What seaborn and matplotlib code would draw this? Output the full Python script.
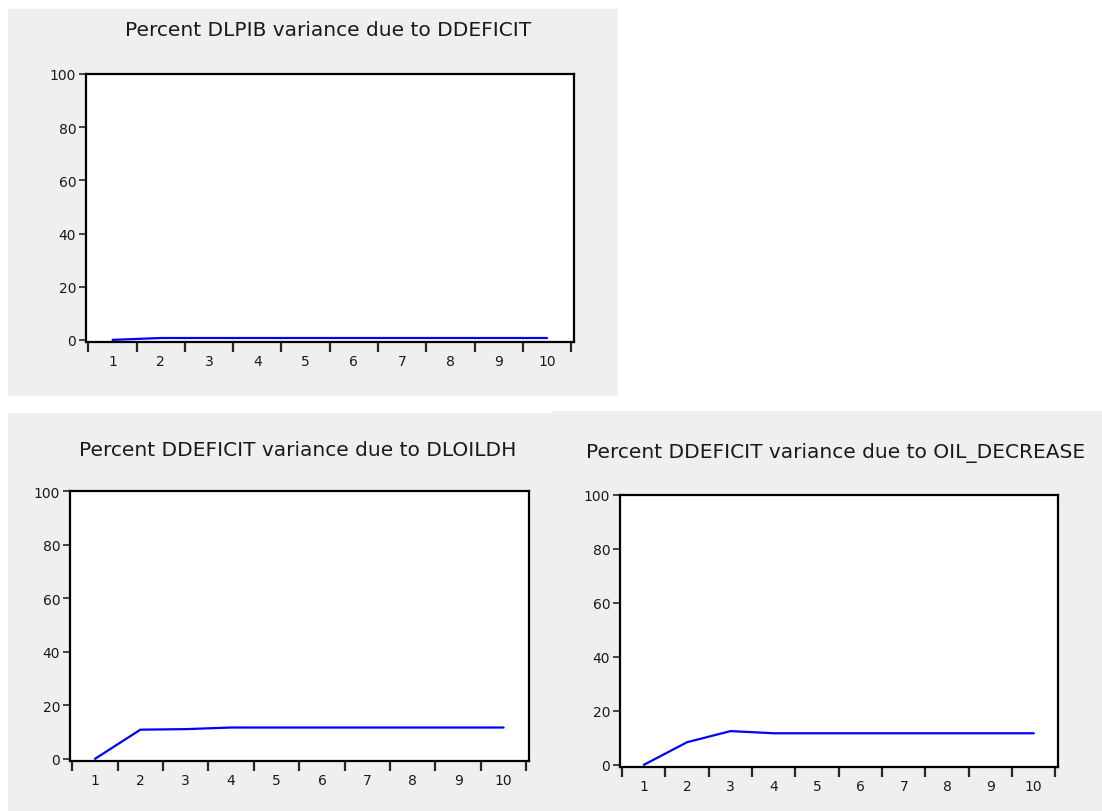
import numpy as np
import pandas as pd
import seaborn as sns
import matplotlib.pyplot as plt
from matplotlib.patches import Rectangle

periods = [1, 2, 3, 4, 5, 6, 7, 8, 9, 10]
dlpib_ddeficit = [0.0, 0.7, 0.7, 0.7, 0.7, 0.7, 0.7, 0.7, 0.7, 0.7]
ddeficit_dloildh = [0.0, 10.9, 11.1, 11.7, 11.7, 11.7, 11.7, 11.7, 11.7, 11.7]
ddeficit_oil_decrease = [0.0, 8.4, 12.5, 11.7, 11.7, 11.7, 11.7, 11.7, 11.7, 11.7]
titles = ["Percent DLPIB variance due to DDEFICIT",
          "Percent DDEFICIT variance due to DLOILDH",
          "Percent DDEFICIT variance due to OIL_DECREASE"]
y_ticks = [0, 20, 40, 60, 80, 100]

sns.set_style("ticks")
plt.rcParams["font.family"] = ["DejaVu Sans"]

W, H = 1102, 812
fig = plt.figure(figsize=(W / 100, H / 100), dpi=100)
fig.patch.set_facecolor("white")

# grey panel backgrounds (pixels: x0, y0, x1, y1)
panels = [(8, 10, 618, 397), (8, 414, 553, 812), (553, 412, 1102, 812)]
for x0, y0, x1, y1 in panels:
    fig.patches.append(Rectangle((x0 / W, 1 - y1 / H), (x1 - x0) / W, (y1 - y0) / H,
                                 transform=fig.transFigure, facecolor="#efefef",
                                 edgecolor="none", zorder=-10))

# axes boxes in pixels: left, right, top, bottom
boxes = [(86, 574, 75, 343), (70, 529, 492, 762), (620, 1058, 496, 768)]
title_pos = [(328, 31), (298, 450), (836, 453)]
series = [dlpib_ddeficit, ddeficit_dloildh, ddeficit_oil_decrease]

for (l, r, t, b), vals, title, (tx, ty) in zip(boxes, series, titles, title_pos):
    ax = fig.add_axes([l / W, 1 - b / H, (r - l) / W, (b - t) / H])
    ax.set_zorder(5)
    ax.set_facecolor("white")
    df = pd.DataFrame({"period": periods, "value": vals})
    sns.lineplot(data=df, x="period", y="value", ax=ax, color="#0000ff", linewidth=1.6)
    ax.set_xlim(0.45, 10.56)
    ax.set_ylim(-0.8, 100)
    ax.set_xticks(np.arange(0.5, 11, 1.0))
    ax.set_xticklabels([])
    ax.set_xticks(periods, minor=True)
    ax.set_xticklabels([str(p) for p in periods], minor=True)
    ax.tick_params(axis="x", which="major", length=7, width=1.6, direction="out")
    ax.tick_params(axis="x", which="minor", length=0, pad=9, labelsize=10, labelcolor="#1a1a1a")
    ax.set_yticks(y_ticks)
    ax.tick_params(axis="y", length=5, width=1.2, direction="out", labelsize=10,
                   labelcolor="#1a1a1a", pad=2)
    for s in ax.spines.values():
        s.set_visible(True)
        s.set_linewidth(1.6)
        s.set_color("black")
    ax.set_xlabel("")
    ax.set_ylabel("")
    fig.text(tx / W, 1 - ty / H, title, ha="center", va="center", fontsize=14.5, color="#1a1a1a")

fig.savefig("out.png", dpi=100, facecolor="white")
